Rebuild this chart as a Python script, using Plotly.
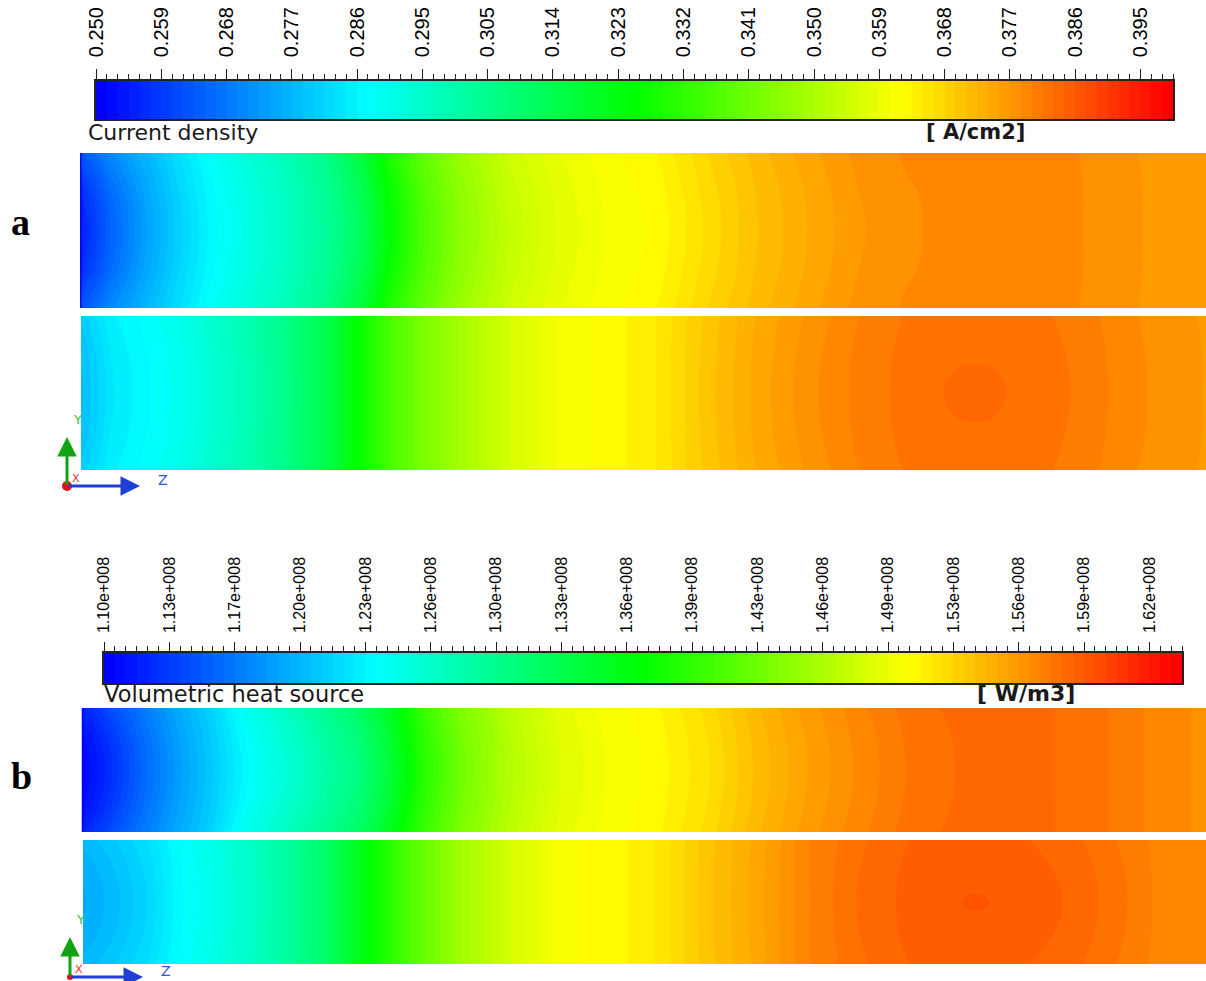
import numpy as np
import plotly.graph_objects as go

W, H = 1206, 981

# Fluent-style rainbow colour map
RAINBOW = [[0.0, "rgb(0,0,255)"], [0.25, "rgb(0,255,255)"], [0.5, "rgb(0,255,0)"],
           [0.75, "rgb(255,255,0)"], [1.0, "rgb(255,0,0)"]]
N_BANDS = 99          # colour bands in each legend bar
LABEL_EVERY = 6       # a labelled tick every 6 bands

# ---- (a) current density, A/cm2 ----
cd_min, cd_max = 0.250, 0.400
cd_tick_labels = ["0.250", "0.259", "0.268", "0.277", "0.286", "0.295", "0.305", "0.314",
                  "0.323", "0.332", "0.341", "0.350", "0.359", "0.368", "0.377", "0.386", "0.395"]

# ---- (b) volumetric heat source, W/m3 (values stored in units of 1e8) ----
q_min, q_max = 1.10, 1.64
q_tick_labels = ["1.10e+008", "1.13e+008", "1.17e+008", "1.20e+008", "1.23e+008", "1.26e+008",
                 "1.30e+008", "1.33e+008", "1.36e+008", "1.39e+008", "1.43e+008", "1.46e+008",
                 "1.49e+008", "1.53e+008", "1.56e+008", "1.59e+008", "1.62e+008"]

# stations along the flow direction (z) and across the channel (y, 0..1)
z_pos = [0, 3, 30, 64, 97, 130, 165, 200, 247, 280, 310, 340, 380, 430, 480, 530, 576,
         626, 676, 726, 776, 826, 860, 877, 894, 911, 928, 990, 1040, 1085, 1125]
y_pos = [0.0, 0.25, 0.5, 0.75, 1.0]

# current density, upper section
cd_top_edge = [0.2500, 0.2635, 0.2706, 0.2770, 0.2830, 0.2887, 0.2935, 0.2973, 0.3055, 0.3160,
               0.3295, 0.3385, 0.3475, 0.3550, 0.3591, 0.3618, 0.3636, 0.3681, 0.3720, 0.3751,
               0.3777, 0.3790, 0.3795, 0.3796, 0.3797, 0.3798, 0.3798, 0.3790, 0.3777, 0.3766,
               0.3759]
cd_top_quarter = [0.2500, 0.2579, 0.2664, 0.2745, 0.2814, 0.2873, 0.2919, 0.2963, 0.3036, 0.3126,
                  0.3261, 0.3363, 0.3459, 0.3539, 0.3583, 0.3612, 0.3628, 0.3673, 0.3713, 0.3744,
                  0.3772, 0.3786, 0.3792, 0.3794, 0.3796, 0.3798, 0.3799, 0.3791, 0.3778, 0.3767,
                  0.3760]
cd_top_center = [0.2500, 0.2560, 0.2650, 0.2736, 0.2809, 0.2868, 0.2913, 0.2959, 0.3030, 0.3115,
                 0.3250, 0.3355, 0.3453, 0.3535, 0.3580, 0.3610, 0.3625, 0.3670, 0.3711, 0.3742,
                 0.3770, 0.3785, 0.3791, 0.3794, 0.3796, 0.3798, 0.3799, 0.3791, 0.3778, 0.3767,
                 0.3760]

# current density, lower section
cd_bot_edge = [0.2809, 0.2811, 0.2860, 0.2884, 0.2908, 0.2947, 0.2989, 0.3043, 0.3145, 0.3265,
               0.3355, 0.3423, 0.3490, 0.3561, 0.3611, 0.3628, 0.3652, 0.3702, 0.3743, 0.3775,
               0.3802, 0.3820, 0.3826, 0.3827, 0.3828, 0.3827, 0.3826, 0.3815, 0.3794, 0.3778,
               0.3771]
cd_bot_quarter = [0.2791, 0.2794, 0.2849, 0.2877, 0.2900, 0.2942, 0.2986, 0.3041, 0.3145, 0.3265,
                  0.3355, 0.3423, 0.3490, 0.3561, 0.3611, 0.3628, 0.3652, 0.3704, 0.3747, 0.3780,
                  0.3806, 0.3823, 0.3831, 0.3831, 0.3831, 0.3831, 0.3831, 0.3817, 0.3797, 0.3780,
                  0.3772]
cd_bot_center = [0.2785, 0.2788, 0.2845, 0.2875, 0.2898, 0.2940, 0.2985, 0.3040, 0.3145, 0.3265,
                 0.3355, 0.3423, 0.3490, 0.3561, 0.3611, 0.3628, 0.3652, 0.3705, 0.3748, 0.3782,
                 0.3807, 0.3824, 0.38325, 0.3838, 0.3840, 0.3838, 0.38325, 0.3818, 0.3798, 0.3780,
                 0.3772]

# heat source (x1e8 W/m3), upper section
q_top_edge = [1.1000, 1.1216, 1.1432, 1.1686, 1.1918, 1.2134, 1.2458, 1.2660, 1.2960, 1.3200,
              1.3560, 1.3970, 1.4360, 1.4690, 1.4900, 1.5015, 1.5080, 1.5220, 1.5410, 1.5555,
              1.5668, 1.5770, 1.5801, 1.5813, 1.5822, 1.5827, 1.5830, 1.5790, 1.5730, 1.5655,
              1.5625]
q_top_quarter = [1.1000, 1.1095, 1.1311, 1.1613, 1.1867, 1.2094, 1.2373, 1.2578, 1.2870, 1.3095,
                 1.3470, 1.3903, 1.4311, 1.4656, 1.4879, 1.5001, 1.5065, 1.5198, 1.5388, 1.5534,
                 1.5651, 1.5754, 1.5789, 1.5806, 1.5821, 1.5827, 1.5830, 1.5790, 1.5730, 1.5655,
                 1.5625]
q_top_center = [1.1000, 1.1054, 1.1270, 1.1588, 1.1850, 1.2080, 1.2345, 1.2550, 1.2840, 1.3060,
                1.3440, 1.3880, 1.4294, 1.4645, 1.4872, 1.4996, 1.5060, 1.5190, 1.5380, 1.5527,
                1.5645, 1.5748, 1.5785, 1.5804, 1.5820, 1.5827, 1.5830, 1.5790, 1.5730, 1.5655,
                1.5625]

# heat source (x1e8 W/m3), lower section
q_bot_edge = [1.2004, 1.2008, 1.2080, 1.2199, 1.2377, 1.2490, 1.2647, 1.2840, 1.3192, 1.3619,
              1.3943, 1.4224, 1.4553, 1.4818, 1.5023, 1.5060, 1.5153, 1.5340, 1.5495, 1.5686,
              1.5784, 1.5854, 1.5872, 1.5876, 1.5878, 1.5876, 1.5872, 1.5818, 1.5737, 1.5660,
              1.5645]
q_bot_quarter = [1.1940, 1.1946, 1.2028, 1.2159, 1.2357, 1.2474, 1.2639, 1.2837, 1.3192, 1.3619,
                 1.3943, 1.4224, 1.4553, 1.4818, 1.5023, 1.5060, 1.5153, 1.5345, 1.5502, 1.5685,
                 1.5798, 1.5866, 1.5889, 1.5890, 1.5882, 1.5890, 1.5889, 1.5841, 1.5754, 1.5660,
                 1.5645]
q_bot_center = [1.1918, 1.1925, 1.2010, 1.2145, 1.2350, 1.2469, 1.2636, 1.2836, 1.3192, 1.3619,
                1.3943, 1.4224, 1.4553, 1.4818, 1.5023, 1.5060, 1.5153, 1.5347, 1.5504, 1.5685,
                1.5803, 1.5870, 1.5895, 1.5907, 1.5920, 1.5907, 1.5895, 1.5848, 1.5759, 1.5660,
                1.5645]


def px(x):
    return x / W


def py(y):
    return 1 - y / H


def field(edge, quarter, center):
    # symmetric cross-section: wall, quarter, mid-plane, quarter, wall
    return np.array([edge, quarter, center, quarter, edge])


def strip(zgrid, vmin, vmax, xa, ya):
    cs = (vmax - vmin) / N_BANDS
    return go.Contour(
        x=z_pos, y=y_pos, z=zgrid, xaxis=xa, yaxis=ya,
        colorscale=RAINBOW, showscale=False, autocontour=False,
        contours=dict(start=vmin + cs, end=vmin + (N_BANDS - 1) * cs, size=cs,
                      coloring="fill", showlines=False),
        line=dict(width=0, smoothing=1.3), hoverinfo="skip",
    )


def legend_bar(vmin, vmax, xa, ya):
    cs = (vmax - vmin) / N_BANDS
    centers = vmin + (np.arange(N_BANDS) + 0.5) * cs
    return go.Heatmap(x=centers, y=[0], z=[centers], xaxis=xa, yaxis=ya,
                      colorscale=RAINBOW, zmin=centers[0], zmax=centers[-1],
                      showscale=False, hoverinfo="skip")


fig = go.Figure()
fig.add_trace(legend_bar(cd_min, cd_max, "x", "y"))
fig.add_trace(strip(field(cd_top_edge, cd_top_quarter, cd_top_center), cd_min, cd_max, "x2", "y2"))
fig.add_trace(strip(field(cd_bot_edge, cd_bot_quarter, cd_bot_center), cd_min, cd_max, "x3", "y3"))
fig.add_trace(legend_bar(q_min, q_max, "x4", "y4"))
fig.add_trace(strip(field(q_top_edge, q_top_quarter, q_top_center), q_min, q_max, "x5", "y5"))
fig.add_trace(strip(field(q_bot_edge, q_bot_quarter, q_bot_center), q_min, q_max, "x6", "y6"))

TICKFONT = "Liberation Sans, Arial, sans-serif"


def bar_axes(vmin, vmax, labels, x0, x1, y0, y1, fsize, ticklen, standoff, yname):
    cs = (vmax - vmin) / N_BANDS
    tickvals = [vmin + LABEL_EVERY * j * cs for j in range(len(labels))]
    xa = dict(domain=[px(x0), px(x1)], range=[vmin, vmax], side="top", anchor=yname,
              tickmode="array", tickvals=tickvals, ticktext=labels, tickangle=-90,
              ticks="outside", ticklen=ticklen, tickwidth=1, tickcolor="#222",
              ticklabelstandoff=standoff, automargin=False,
              tickfont=dict(family=TICKFONT, size=fsize, color="#000"),
              minor=dict(tickmode="array", tickvals=list(vmin + np.arange(N_BANDS + 1) * cs),
                         ticks="outside", ticklen=5, tickwidth=1, tickcolor="#222"),
              showline=True, mirror=True, linecolor="#222", linewidth=1.5,
              showgrid=False, zeroline=False, fixedrange=True)
    ya = dict(domain=[py(y1), py(y0)], range=[-0.5, 0.5], showticklabels=False, ticks="",
              showline=True, mirror=True, linecolor="#222", linewidth=1.5, automargin=False,
              showgrid=False, zeroline=False, fixedrange=True)
    return xa, ya


def strip_axes(x0, y0, y1):
    xa = dict(domain=[px(x0), 1.0], range=[z_pos[0], z_pos[-1]], visible=False,
              fixedrange=True, automargin=False)
    ya = dict(domain=[py(y1), py(y0)], range=[0, 1], visible=False,
              fixedrange=True, automargin=False)
    return xa, ya


xa1, ya1 = bar_axes(cd_min, cd_max, cd_tick_labels, 96, 1173, 81, 119, 20, 10, 8, "y")
xa4, ya4 = bar_axes(q_min, q_max, q_tick_labels, 104, 1182, 653, 683, 16, 9, 6, "y4")
xa2, ya2 = strip_axes(80, 153, 308)
xa3, ya3 = strip_axes(81, 316, 470)
xa5, ya5 = strip_axes(81.5, 708, 832)
xa6, ya6 = strip_axes(83, 840, 964)

for i, (xa, ya) in enumerate([(xa1, ya1), (xa2, ya2), (xa3, ya3), (xa4, ya4), (xa5, ya5), (xa6, ya6)], 1):
    s = "" if i == 1 else str(i)
    if i not in (1, 4):
        xa["anchor"] = "y" + s
    ya["anchor"] = "x" + s
    fig.update_layout({"xaxis" + s: xa, "yaxis" + s: ya})

SANS = "DejaVu Sans, Verdana, sans-serif"
SERIF = "Liberation Serif, Times New Roman, serif"
ann = []


def text(x, y, s, size, color="#1a1a1a", family=SANS, xanchor="left", bold=False):
    ann.append(dict(x=px(x), y=py(y), xref="paper", yref="paper", text=s, showarrow=False,
                    xanchor=xanchor, yanchor="middle",
                    font=dict(family=family, size=size, color=color,
                              weight="bold" if bold else "normal")))


text(86, 133, "Current density", 22)
text(924, 132, "[ A/cm2]", 21, bold=True)
text(102, 694, "Volumetric heat source", 22.5)
text(975, 693, "[ W/m3]", 22, bold=True)
text(20, 222, "a", 38, color="#000", family=SERIF, xanchor="center", bold=True)
text(21, 776, "b", 38, color="#000", family=SERIF, xanchor="center", bold=True)


def triad(ox, oy, ylen, zlen, dot_r):
    # coordinate system glyph: Y up (green), Z right (blue), X out of plane (red)
    ann.append(dict(x=px(ox), y=py(oy - ylen), xref="paper", yref="paper", ax=0, ay=ylen,
                    showarrow=True, arrowhead=2, arrowsize=1.3, arrowwidth=3,
                    arrowcolor="#12a312", text=""))
    ann.append(dict(x=px(ox + zlen), y=py(oy), xref="paper", yref="paper", ax=-zlen, ay=0,
                    showarrow=True, arrowhead=2, arrowsize=1.3, arrowwidth=3,
                    arrowcolor="#1f3fd6", text=""))
    text(ox + 10, oy - ylen - 18, "Y", 13, color="#3cbf3c", xanchor="center")
    text(ox + zlen + 23, oy - 6, "Z", 14, color="#3050e8", xanchor="center")
    text(ox + 9, oy - 8, "X", 11, color="#e83030", xanchor="center")
    fig.add_shape(type="circle", xref="paper", yref="paper",
                  x0=px(ox - dot_r), x1=px(ox + dot_r), y0=py(oy + dot_r), y1=py(oy - dot_r),
                  fillcolor="#e01010", line=dict(width=0))


triad(67, 486, 49, 73, 5)
triad(70, 977, 40, 73, 3)

fig.update_layout(width=W, height=H,
                  margin=dict(l=0, r=0, t=0, b=0, pad=0, autoexpand=False),
                  paper_bgcolor="white", plot_bgcolor="white", annotations=ann,
                  showlegend=False)

fig.write_html("out.html", config={"displayModeBar": False},
               post_script="document.body.style.margin='0px';"
                           "document.body.style.overflow='hidden';")
